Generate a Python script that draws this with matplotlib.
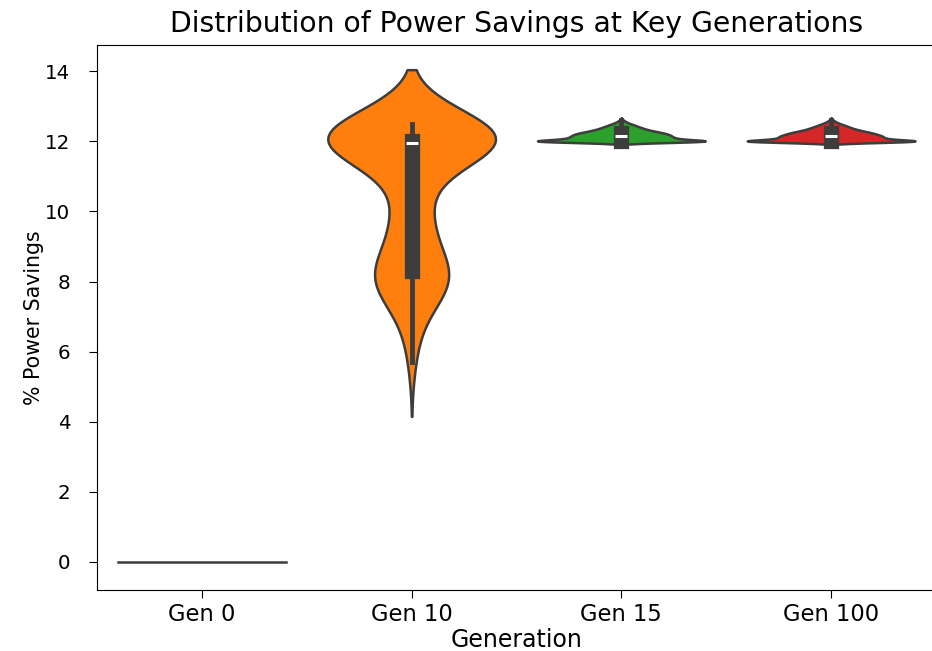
import numpy as np
import pandas as pd
import matplotlib
matplotlib.use("Agg")
import matplotlib.pyplot as plt
import seaborn as sns

# Generations shown on the x axis and their fill colours
generations = ["Gen 0", "Gen 10", "Gen 15", "Gen 100"]
colors = ["#1f77b4", "#ff7f0e", "#2ca02c", "#d62728"]

# Power-savings observations per generation, stored as (value, count) pairs
gen0_values = [0.0]
gen0_counts = [30]

gen10_values = [5.7, 6.2, 6.8, 7.3, 7.7, 7.9, 8.0, 8.2, 8.3,
                8.7, 9.0, 9.4, 9.8, 10.2, 10.6, 11.0, 11.4, 11.7,
                11.95, 12.0, 12.1, 12.2, 12.3, 12.4, 12.5]
gen10_counts = [1, 1, 2, 2, 3, 3, 4, 4, 6,
                1, 3, 3, 4, 2, 2, 2, 2, 3,
                6, 22, 3, 4, 5, 6, 6]

gen15_values = [12.0, 12.05, 12.1, 12.15, 12.2, 12.25, 12.3,
                12.35, 12.4, 12.45, 12.5, 12.55, 12.6]
gen15_counts = [260, 120, 110, 105, 100, 85, 65, 50, 40, 30, 20, 10, 5]

gen100_values = [12.0, 12.05, 12.1, 12.15, 12.2, 12.25, 12.3,
                 12.35, 12.4, 12.45, 12.5, 12.55, 12.6]
gen100_counts = [265, 115, 110, 110, 95, 85, 65, 50, 40, 30, 20, 10, 5]

series = {
    "Gen 0": (gen0_values, gen0_counts),
    "Gen 10": (gen10_values, gen10_counts),
    "Gen 15": (gen15_values, gen15_counts),
    "Gen 100": (gen100_values, gen100_counts),
}

frames = []
for gen in generations:
    vals, cnts = series[gen]
    obs = np.repeat(np.asarray(vals, dtype=float), cnts)
    frames.append(pd.DataFrame({"Generation": gen, "Savings": obs}))
df = pd.concat(frames, ignore_index=True)

plt.rcParams["font.family"] = ["DejaVu Sans"]

fig = plt.figure(figsize=(9.32, 6.51), dpi=100)
ax = fig.add_axes([97 / 932, 61 / 651, 839 / 932, 545 / 651])

common = dict(data=df, x="Generation", y="Savings", order=generations,
              inner="box", ax=ax)
try:
    sns.violinplot(**common, hue="Generation", hue_order=generations,
                   palette=colors, legend=False, saturation=1,
                   density_norm="width", linewidth=1.8, linecolor="#3d3d3d",
                   inner_kws=dict(box_width=11, whis_width=3.5))
except TypeError:
    sns.violinplot(**common, palette=colors, saturation=1, scale="width",
                   linewidth=1.8)

ax.set_xlim(-0.5, 3.5)
ax.set_ylim(-0.8, 14.75)
ax.set_yticks(range(0, 15, 2))

ax.set_title("Distribution of Power Savings at Key Generations",
             fontsize=20.3, pad=9)
ax.set_xlabel("Generation", fontsize=17, labelpad=1)
ax.set_ylabel("% Power Savings", fontsize=14.8, labelpad=1)
ax.tick_params(axis="x", labelsize=16.3, length=6)
ax.tick_params(axis="y", labelsize=14.3, length=6, pad=13)

fig.savefig("out.png", dpi=100)
